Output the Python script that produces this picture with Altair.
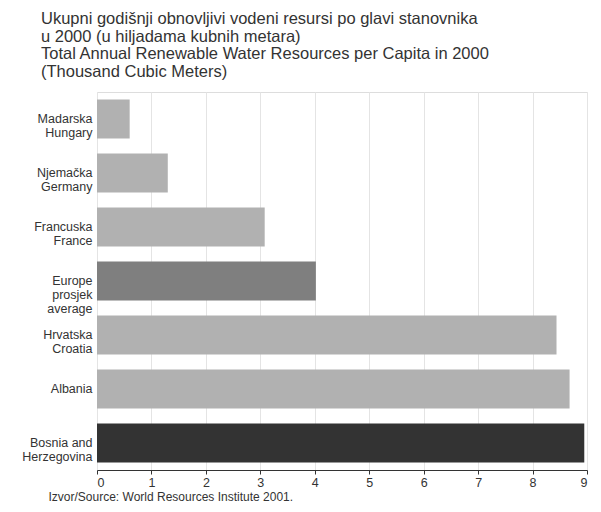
import altair as alt
import pandas as pd

categories = [
    "Madarska\nHungary",
    "Njemačka\nGermany",
    "Francuska\nFrance",
    "Europe\nprosjek\naverage",
    "Hrvatska\nCroatia",
    "Albania",
    "Bosnia and\nHerzegovina",
]
values = [0.6, 1.3, 3.08, 4.02, 8.44, 8.68, 8.95]
groups = ["country", "country", "country", "europe", "country", "country", "bosnia"]
group_names = ["country", "europe", "bosnia"]
group_colors = ["#b1b1b1", "#7f7f7f", "#333333"]
x_ticks = [0, 1, 2, 3, 4, 5, 6, 7, 8, 9]

title_lines = [
    "Ukupni godišnji obnovljivi vodeni resursi po glavi stanovnika",
    "u 2000 (u hiljadama kubnih metara)",
    "Total Annual Renewable Water Resources per Capita in 2000",
    "(Thousand Cubic Meters)",
]
source = "Izvor/Source: World Resources Institute 2001."

df = pd.DataFrame({"cat": categories, "value": values, "group": groups})

FONT = "Liberation Sans"

chart = (
    alt.Chart(df)
    .mark_bar()
    .encode(
        y=alt.Y(
            "cat:N",
            sort=categories,
            scale=alt.Scale(paddingInner=0.28, paddingOuter=0.14),
            axis=alt.Axis(
                title=None,
                ticks=False,
                domain=False,
                grid=False,
                labelExpr="split(datum.label, '\\n')",
                labelFont=FONT,
                labelFontSize=12.5,
                labelLineHeight=14,
                labelColor="#333333",
                labelPadding=5,
                labelLimit=200,
                minExtent=89,
            ),
        ),
        x=alt.X(
            "value:Q",
            scale=alt.Scale(domain=[0, 9], nice=False),
            axis=alt.Axis(
                values=x_ticks,
                format="d",
                title=source,
                titleFont=FONT,
                titleFontSize=12,
                titleFontWeight="normal",
                titleColor="#333333",
                titleAnchor="start",
                titleAlign="left",
                titleBaseline="middle",
                titleX=-49,
                titleY=26,
                grid=True,
                gridColor="#e4e4e4",
                domainColor="#333333",
                tickColor="#333333",
                tickSize=4,
                labelFont=FONT,
                labelFontSize=12.5,
                labelColor="#333333",
                labelPadding=2,
            ),
        ),
        color=alt.Color(
            "group:N",
            scale=alt.Scale(domain=group_names, range=group_colors),
            legend=None,
        ),
    )
    .properties(
        width=490,
        height=378,
        title=alt.TitleParams(
            text=title_lines,
            anchor="start",
            frame="bounds",
            dx=33,
            font=FONT,
            fontSize=16.5,
            fontWeight="normal",
            lineHeight=17.5,
            color="#333333",
            offset=12,
        ),
    )
    .configure_view(stroke=None)
    .configure(padding={"left": 0, "top": 3, "right": 0, "bottom": 0})
)

chart.save("out.html", embed_options={"renderer": "svg", "actions": False})
